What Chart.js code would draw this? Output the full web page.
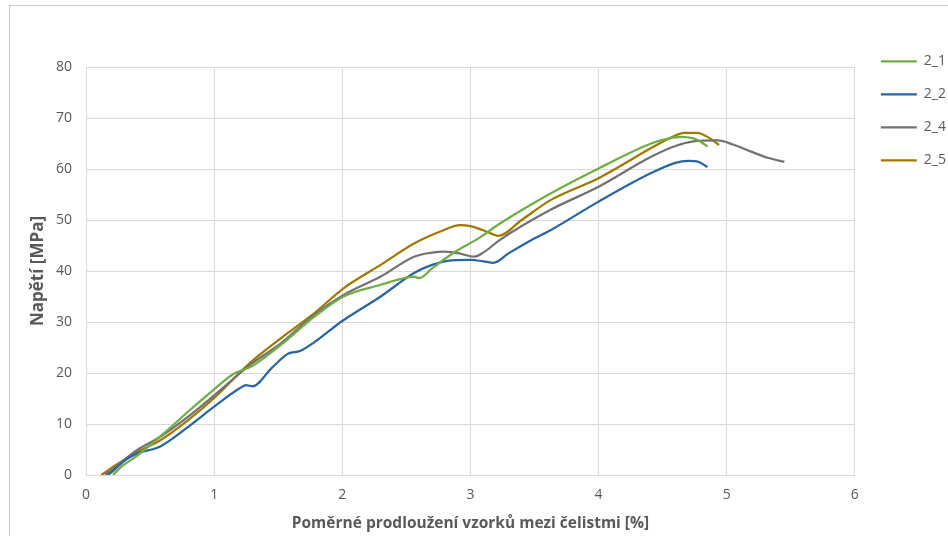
<!DOCTYPE html>
<html>
<head>
<meta charset="utf-8">
<script src="https://cdn.jsdelivr.net/npm/chart.js@4/dist/chart.umd.min.js"></script>
<style>
  html, body { margin: 0; padding: 0; background: #ffffff; }
  #wrap { width: 948px; height: 536px; }
</style>
</head>
<body>
<div id="wrap"><canvas id="c" width="948" height="536"></canvas></div>
<script>
// Tensile test curves: relative elongation [%] vs. stress [MPa]
const seriesNames = ['2_1', '2_2', '2_4', '2_5'];

const strain_2_1 = [0.21, 0.27, 0.40, 0.60, 0.80, 1.00, 1.15, 1.30, 1.52, 1.78, 2.01, 2.30, 2.45, 2.56, 2.60, 2.70, 2.84, 3.08, 3.23, 3.625, 4.00, 4.41, 4.55, 4.64, 4.74, 4.80, 4.85];
const stress_2_1 = [0.0, 1.5, 3.8, 8.0, 12.5, 16.8, 19.8, 21.4, 25.5, 31.0, 35.0, 37.3, 38.4, 38.9, 38.6, 40.5, 43.1, 46.7, 49.3, 55.2, 60.1, 65.0, 66.0, 66.3, 66.0, 65.3, 64.4];

const strain_2_2 = [0.17, 0.22, 0.30, 0.40, 0.58, 0.80, 1.00, 1.20, 1.25, 1.30, 1.45, 1.58, 1.67, 1.78, 2.00, 2.30, 2.56, 2.70, 2.82, 3.00, 3.10, 3.18, 3.30, 3.47, 3.625, 4.00, 4.41, 4.60, 4.70, 4.78, 4.85];
const stress_2_2 = [0.0, 1.0, 2.8, 4.2, 5.6, 9.5, 13.4, 17.0, 17.6, 17.4, 21.0, 23.8, 24.3, 26.0, 30.2, 35.0, 39.6, 41.2, 42.0, 42.2, 41.9, 41.6, 43.5, 46.0, 48.0, 53.6, 59.2, 61.2, 61.6, 61.4, 60.4];

const strain_2_4 = [0.15, 0.25, 0.40, 0.58, 0.80, 1.00, 1.28, 1.52, 1.78, 2.01, 2.30, 2.56, 2.70, 2.79, 2.90, 3.03, 3.10, 3.23, 3.625, 4.00, 4.41, 4.60, 4.74, 4.93, 5.05, 5.19, 5.32, 5.45];
const stress_2_4 = [0.0, 2.0, 4.9, 7.5, 11.5, 15.6, 21.6, 25.8, 31.4, 35.3, 38.9, 42.8, 43.6, 43.8, 43.5, 42.8, 43.6, 46.1, 52.0, 56.5, 62.4, 64.5, 65.4, 65.6, 64.8, 63.4, 62.2, 61.4];

const strain_2_5 = [0.12, 0.25, 0.40, 0.58, 0.80, 1.00, 1.28, 1.52, 1.78, 2.01, 2.30, 2.56, 2.77, 2.92, 3.00, 3.10, 3.22, 3.40, 3.625, 4.00, 4.41, 4.55, 4.67, 4.77, 4.85, 4.94];
const stress_2_5 = [0.0, 2.2, 4.5, 6.8, 10.8, 15.1, 22.0, 26.8, 31.7, 36.6, 41.2, 45.4, 47.8, 49.0, 48.8, 48.0, 46.9, 50.0, 53.9, 58.2, 64.1, 66.0, 67.1, 67.1, 66.3, 64.7];

const xTicks = [0, 1, 2, 3, 4, 5, 6];
const yTicks = [0, 10, 20, 30, 40, 50, 60, 70, 80];

const xTitle = 'Poměrné prodloužení vzorků mezi čelistmi [%]';
const yTitle = 'Napětí [MPa]';

const colors = ['#70ad47', '#2a65a0', '#727272', '#a07800'];

function pairs(xs, ys) {
  return xs.map((x, i) => ({ x: x, y: ys[i] }));
}

const seriesData = [
  pairs(strain_2_1, stress_2_1),
  pairs(strain_2_2, stress_2_2),
  pairs(strain_2_4, stress_2_4),
  pairs(strain_2_5, stress_2_5)
];

const datasets = seriesNames.map((name, i) => ({
  label: name,
  data: seriesData[i],
  showLine: true,
  borderColor: colors[i],
  backgroundColor: colors[i],
  borderWidth: 2.25,
  pointRadius: 0,
  pointHoverRadius: 0,
  cubicInterpolationMode: 'monotone',
  fill: false
}));

const PAD_LEFT = 24;
const PLOT_LEFT = 86;
const PLOT_BOTTOM = 475;

// thin frame around the whole chart
const frame = {
  id: 'frame',
  beforeDraw(chart) {
    const ctx = chart.ctx;
    ctx.save();
    ctx.strokeStyle = '#c9c9c9';
    ctx.lineWidth = 1;
    ctx.strokeRect(9.5, 5.5, chart.width, chart.height);
    ctx.restore();
  }
};

// place the legend at the top right, beside the plot
const legendPlace = {
  id: 'legendPlace',
  afterLayout(chart) {
    const lg = chart.legend;
    if (!lg) return;
    const dx = 7, dy = -31.7;
    lg.left += dx; lg.right += dx;
    lg.top += dy; lg.bottom += dy;
  }
};

const tickFont = { family: 'Open Sans', size: 14 };

new Chart(document.getElementById('c'), {
  type: 'scatter',
  data: { datasets },
  plugins: [frame, legendPlace],
  options: {
    responsive: false,
    animation: false,
    layout: { padding: { left: PAD_LEFT, top: 67, right: -1, bottom: 0 } },
    plugins: {
      tooltip: { enabled: false },
      legend: {
        position: 'right',
        align: 'start',
        labels: {
          usePointStyle: true,
          pointStyle: 'line',
          pointStyleWidth: 36,
          padding: 19,
          color: '#595959',
          font: { family: 'Open Sans', size: 14 }
        }
      }
    },
    scales: {
      x: {
        type: 'linear',
        min: 0,
        max: 6,
        afterBuildTicks(scale) { scale.ticks = xTicks.map(v => ({ value: v })); },
        afterFit(scale) { scale.height = 536 - PLOT_BOTTOM; },
        ticks: { color: '#595959', font: tickFont, padding: 12 },
        grid: { color: '#d9d9d9', drawTicks: false, lineWidth: 1 },
        border: { color: '#d9d9d9', width: 1 },
        title: {
          display: true,
          text: xTitle,
          color: '#595959',
          font: { family: 'Open Sans', size: 15.5, weight: 'bold' },
          padding: { top: 4, bottom: 3.5 }
        }
      },
      y: {
        type: 'linear',
        min: 0,
        max: 80,
        afterBuildTicks(scale) { scale.ticks = yTicks.map(v => ({ value: v })); },
        afterFit(scale) { scale.width = PLOT_LEFT - PAD_LEFT; },
        ticks: { color: '#595959', font: tickFont, padding: 14 },
        grid: { color: '#d9d9d9', drawTicks: false, lineWidth: 1 },
        border: { color: '#d9d9d9', width: 1 },
        title: {
          display: true,
          text: yTitle,
          color: '#595959',
          font: { family: 'Open Sans', size: 17, weight: 'bold' },
          padding: { top: 4, bottom: 4 }
        }
      }
    }
  }
});
</script>
</body>
</html>
